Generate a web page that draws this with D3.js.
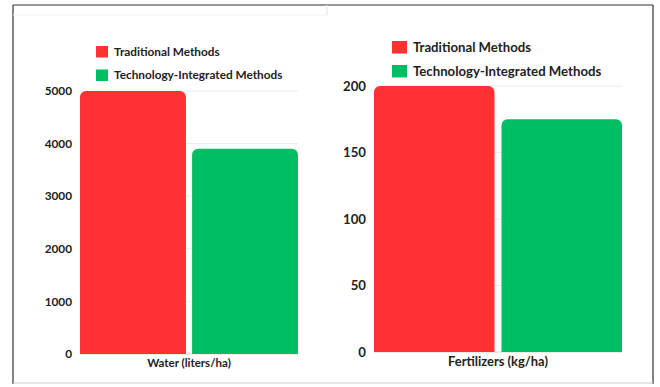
<!DOCTYPE html>
<html><head><meta charset="utf-8">
<script src="https://cdn.jsdelivr.net/npm/d3@7"></script>
<style>body{margin:0;background:#fff}svg{display:block}text{font-family:Lato,"Open Sans",sans-serif;font-weight:700;fill:#222}</style>
</head><body><div id="chart"></div>
<script>
const series = ["Traditional Methods", "Technology-Integrated Methods"];
const categories = ["Water (liters/ha)", "Fertilizers (kg/ha)"];
const waterValues = [5000, 3900];
const fertilizerValues = [200, 175];
const waterTicks = [0, 1000, 2000, 3000, 4000, 5000];
const fertilizerTicks = [0, 50, 100, 150, 200];

const W = 660, H = 387;
const colors = ["#FF3131", "#00BF63"];
const svg = d3.select("#chart").append("svg").attr("width", W).attr("height", H);

// frame lines (screenshot collage borders)
svg.append("line").attr("x1",13).attr("x2",13).attr("y1",5).attr("y2",384).attr("stroke","#333").attr("stroke-width",1.2);
svg.append("line").attr("x1",13).attr("x2",653).attr("y1",5).attr("y2",5).attr("stroke","#333").attr("stroke-width",1.2);
svg.append("line").attr("x1",653).attr("x2",653).attr("y1",5).attr("y2",384).attr("stroke","#333").attr("stroke-width",1.2);
svg.append("line").attr("x1",13).attr("x2",653).attr("y1",383).attr("y2",383).attr("stroke","#ccc").attr("stroke-width",1);
svg.append("line").attr("x1",13).attr("x2",327).attr("y1",15).attr("y2",15).attr("stroke","#f0f0f0").attr("stroke-width",1);
svg.append("line").attr("x1",327).attr("x2",327).attr("y1",5).attr("y2",15).attr("stroke","#e4e4e4").attr("stroke-width",1);

const panels = [
  {cat: categories[0], values: waterValues, ticks: waterTicks, domain: [0, 5000], x0: 80, x1: 298, y0: 354, y1: 91,
   lx: 96, ly: 46, tx: 72, fs: 11.8, sw: 12, sh: 11.5, gap: 23.5, tOff: 18},
  {cat: categories[1], values: fertilizerValues, ticks: fertilizerTicks, domain: [0, 200], x0: 374, x1: 622, y0: 352, y1: 86,
   lx: 392, ly: 41, tx: 366, fs: 13.2, sw: 15, sh: 12.5, gap: 24, tOff: 21}
];

function topRounded(x, y, w, h, r) {
  const p = d3.path();
  p.moveTo(x, y + h);
  p.lineTo(x, y + r);
  p.arcTo(x, y, x + r, y, r);
  p.lineTo(x + w - r, y);
  p.arcTo(x + w, y, x + w, y + r, r);
  p.lineTo(x + w, y + h);
  p.closePath();
  return p.toString();
}

panels.forEach(pn => {
  const g = svg.append("g");
  const y = d3.scaleLinear().domain(pn.domain).range([pn.y0, pn.y1]);
  const xc = d3.scaleBand().domain([pn.cat]).range([pn.x0, pn.x1]).padding(0);
  const xs = d3.scaleBand().domain(series).range([0, xc.bandwidth()]).paddingInner(0.055).paddingOuter(0);

  // gridlines
  g.selectAll(".grid").data(pn.ticks).join("line")
    .attr("x1", pn.x0).attr("x2", pn.x1)
    .attr("y1", d => y(d)).attr("y2", d => y(d))
    .attr("stroke", d => d === 0 ? "#d8d8d8" : "#ececec").attr("stroke-width", 1);

  // y axis
  const ax = d3.axisLeft(y).tickValues(pn.ticks).tickSize(0).tickPadding(0).tickFormat(d3.format("d"));
  const axg = g.append("g").attr("transform", `translate(${pn.tx},0)`).call(ax);
  axg.select(".domain").remove();
  axg.selectAll("text").attr("font-size", pn.fs).attr("font-family", "Lato, sans-serif").attr("font-weight", 700).attr("fill", "#222");

  // bars
  g.selectAll(".bar").data(series.map((s, i) => ({s, v: pn.values[i], i}))).join("path")
    .attr("d", d => topRounded(xc(pn.cat) + xs(d.s), y(d.v), xs.bandwidth(), y(0) - y(d.v), 6))
    .attr("fill", d => colors[d.i]);

  // category label
  const xa = d3.axisBottom(xc).tickSize(0).tickPadding(0);
  const xg = g.append("g").attr("transform", `translate(0,${pn.y0 + 5})`).call(xa);
  xg.select(".domain").remove();
  xg.selectAll("text").attr("font-size", pn.fs - 0.3).attr("font-family", "Lato, sans-serif").attr("font-weight", 700).attr("fill", "#222").attr("dy", "0.71em");

  // legend
  const lg = g.append("g").attr("transform", `translate(${pn.lx},${pn.ly})`);
  series.forEach((s, i) => {
    lg.append("rect").attr("x", 0).attr("y", i * pn.gap).attr("width", pn.sw).attr("height", pn.sh).attr("fill", colors[i]);
    lg.append("text").attr("x", pn.tOff).attr("y", i * pn.gap + pn.sh / 2 + pn.fs * 0.36).attr("font-size", pn.fs).text(s);
  });
});
</script></body></html>
